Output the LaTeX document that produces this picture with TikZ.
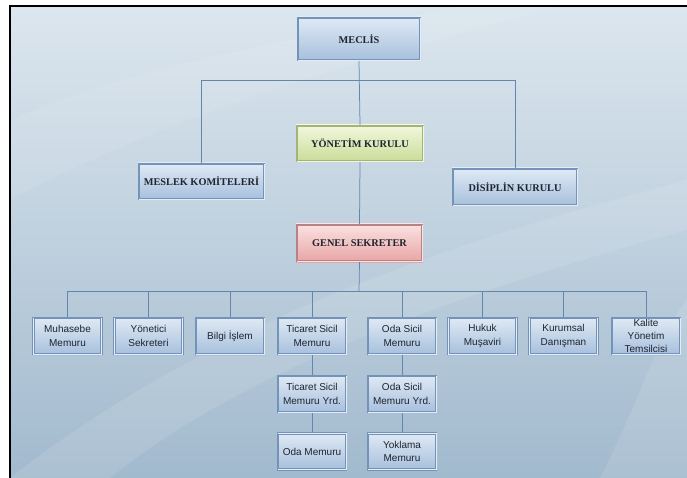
\documentclass[tikz,border=0pt]{standalone}
\usepackage{fontspec}
\setmainfont{Liberation Serif}
\setsansfont{Liberation Sans}
\definecolor{bgtop}{HTML}{DCE6EE}
\definecolor{bgbot}{HTML}{A2BACE}
\definecolor{conn}{HTML}{6386AC}
\definecolor{bbord}{HTML}{7393B8}
\definecolor{bgap}{HTML}{E4ECF5}
\definecolor{btop}{HTML}{E0EAF5}
\definecolor{bbot}{HTML}{A6BFDC}
\definecolor{gtop}{HTML}{F2F8DE}
\definecolor{gbot}{HTML}{C9DC98}
\definecolor{gbord}{HTML}{A2B47A}
\definecolor{rtop}{HTML}{FBE2E2}
\definecolor{rbot}{HTML}{E8A4A4}
\definecolor{rbord}{HTML}{B88282}
\definecolor{txt}{HTML}{1E2430}
\begin{document}
\begin{tikzpicture}[x=1pt,y=-1pt,
  boxbase/.style={top color=btop, bottom color=bbot, inner sep=0pt, text=txt, align=center},
  headbox/.style={boxbase, font=\fontsize{10.3}{12}\selectfont\bfseries},
  greenbox/.style={headbox, top color=gtop, bottom color=gbot},
  redbox/.style={headbox, top color=rtop, bottom color=rbot},
  unitbox/.style={boxbase, minimum width=70pt, minimum height=38pt,
    font=\sffamily\fontsize{10}{13.5}\selectfont},
  link/.style={draw=conn, line width=0.75pt},
  outerline/.style={line width=0.75pt},
  gapline/.style={line width=0.9pt}
]
\useasboundingbox (0,0) rectangle (687,478);
\fill[white] (0,0) rectangle (687,478);
\shade[top color=bgtop, bottom color=bgbot] (10,6) rectangle (687,478);
% faint background swooshes
\fill[white, opacity=0.10] (10,478) .. controls (200,330) and (420,250) .. (687,180) -- (687,230) .. controls (430,300) and (230,380) .. (110,478) -- cycle;
\fill[white, opacity=0.08] (10,120) .. controls (150,60) and (300,40) .. (460,6) -- (560,6) .. controls (360,60) and (180,110) .. (10,200) -- cycle;
\fill[white, opacity=0.10] (600,478) .. controls (640,400) and (660,330) .. (687,300) -- (687,478) -- cycle;
\draw[line width=2.4pt] (10,478) -- (10,6) -- (687,6);

\coordinate (busA) at (359,80);
\coordinate (busB) at (359,291);

% top level
\node[headbox, minimum width=124pt, minimum height=44pt] (meclis) at (359,39) {MECLİS};
\node[greenbox, minimum width=128pt, minimum height=37pt] (yonetim) at (360,143.5) {YÖNETİM KURULU};
\node[headbox, minimum width=127pt, minimum height=37pt] (meslek) at (201.5,181.5) {MESLEK KOMİTELERİ};
\node[headbox, minimum width=126pt, minimum height=38pt] (disiplin) at (515,187) {DİSİPLİN KURULU};
\node[redbox, minimum width=127pt, minimum height=38pt] (genel) at (359.5,243) {GENEL SEKRETER};

% units
\node[unitbox] (muh) at (67.5,336) {Muhasebe\\Memuru};
\node[unitbox] (yon) at (148.5,336) {Yönetici\\Sekreteri};
\node[unitbox] (bil) at (230,336) {Bilgi İşlem};
\node[unitbox] (tic) at (312,336) {Ticaret Sicil\\Memuru};
\node[unitbox] (oda) at (402,336) {Oda Sicil\\Memuru};
\node[unitbox] (huk) at (482.5,336) {Hukuk\\Muşaviri};
\node[unitbox] (kur) at (563.5,336) {Kurumsal\\Danışman};
\node[unitbox, font=\sffamily\fontsize{10}{13}\selectfont] (kal) at (646,336) {Kalite\\Yönetim\\Temsilcisi};
\node[unitbox] (ticy) at (312,394) {Ticaret Sicil\\Memuru Yrd.};
\node[unitbox] (odam) at (312,451.5) {Oda Memuru};
\node[unitbox] (odasy) at (402,394) {Oda Sicil\\Memuru Yrd.};
\node[unitbox] (yok) at (402,451.5) {Yoklama\\Memuru};

% double frames
\foreach \n/\c/\g in {meclis/bbord/bgap, yonetim/gbord/gtop, meslek/bbord/bgap, disiplin/bbord/bgap, genel/rbord/rtop,
  muh/bbord/bgap, yon/bbord/bgap, bil/bbord/bgap, tic/bbord/bgap, oda/bbord/bgap, huk/bbord/bgap, kur/bbord/bgap, kal/bbord/bgap,
  ticy/bbord/bgap, odam/bbord/bgap, odasy/bbord/bgap, yok/bbord/bgap}{
  \draw[outerline, draw=\c] ([shift={(0.4pt,0.4pt)}]\n.south west) rectangle ([shift={(-0.4pt,-0.4pt)}]\n.north east);
  \draw[gapline, draw=\g] ([shift={(1.2pt,1.2pt)}]\n.south west) rectangle ([shift={(-1.2pt,-1.2pt)}]\n.north east);
  \draw[outerline, draw=\c] ([shift={(2.0pt,2.0pt)}]\n.south west) rectangle ([shift={(-2.0pt,-2.0pt)}]\n.north east);
}

% connectors
\path[link] (meclis.south) -- (yonetim.north);
\path[link] (yonetim.south) -- (genel.north);
\path[link] (meslek.north) -- (meslek.north |- busA) -- (disiplin.north |- busA) -- (disiplin.north);
\path[link] (genel.south) -- (busB);
\path[link] (muh.north) -- (muh.north |- busB) -- (kal.north |- busB) -- (kal.north);
\foreach \n in {yon,bil,tic,oda,huk,kur}
  \path[link] (\n.north) -- (\n.north |- busB);
\path[link] (tic.south) -- (ticy.north);
\path[link] (ticy.south) -- (odam.north);
\path[link] (oda.south) -- (odasy.north);
\path[link] (odasy.south) -- (yok.north);
\end{tikzpicture}
\end{document}
